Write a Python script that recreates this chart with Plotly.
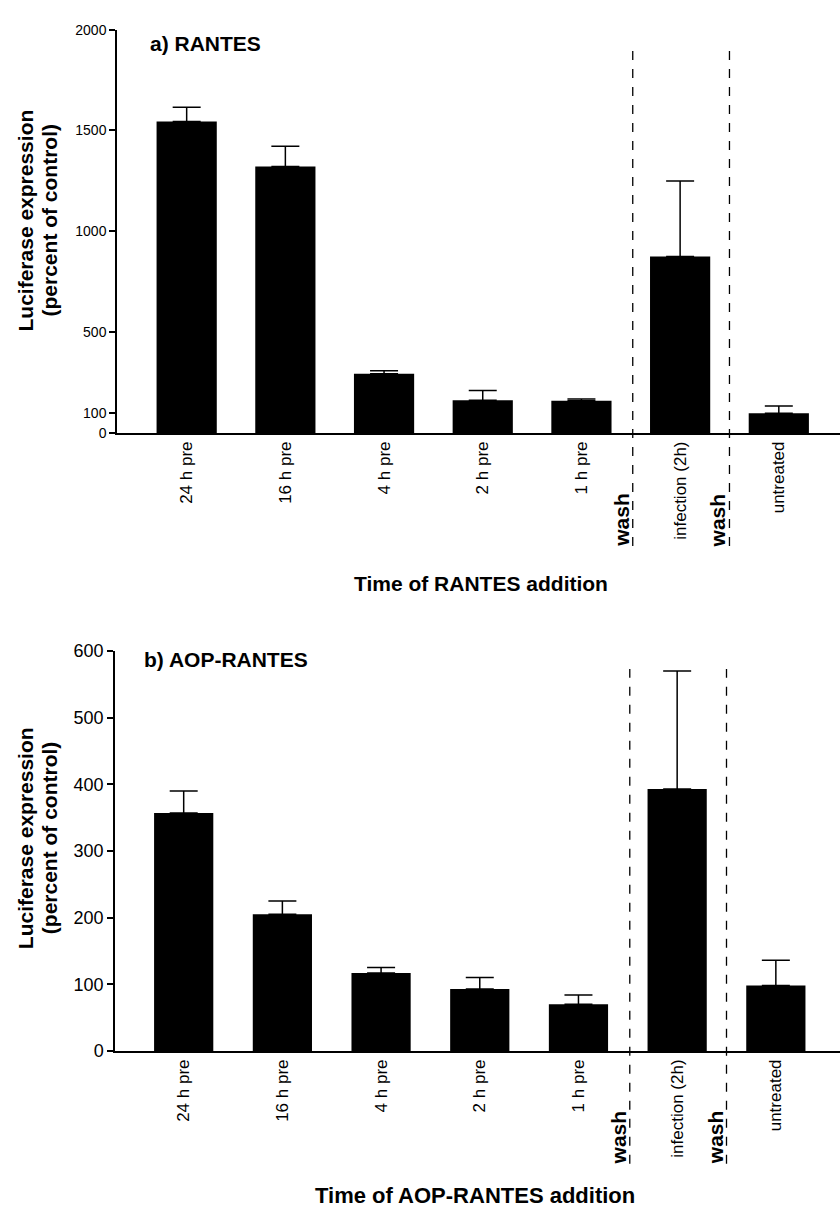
import plotly.graph_objects as go

categories = ["24 h pre", "16 h pre", "4 h pre", "2 h pre", "1 h pre", "infection (2h)", "untreated"]

rantes_values = [1545, 1322, 293, 162, 160, 875, 98]
rantes_errors = [70, 100, 16, 49, 8, 374, 35]

aop_values = [357, 205, 117, 93, 70, 393, 98]
aop_errors = [33, 20, 8, 17, 14, 177, 38]

rantes_yticks = [0, 100, 500, 1000, 1500, 2000]
aop_yticks = [0, 100, 200, 300, 400, 500, 600]

wash_positions = [4.52, 5.5]

W, H = 840, 1217
FONT = "Liberation Sans, Arial, sans-serif"

idx = list(range(len(categories)))

fig = go.Figure()

fig.add_trace(go.Bar(
    x=idx, y=rantes_values, width=0.61,
    marker=dict(color="black", line=dict(width=0)),
    error_y=dict(type="data", symmetric=False, array=rantes_errors,
                 arrayminus=[0] * len(rantes_errors), color="black",
                 thickness=1.5, width=14),
    xaxis="x", yaxis="y", showlegend=False))

fig.add_trace(go.Bar(
    x=idx, y=aop_values, width=0.60,
    marker=dict(color="black", line=dict(width=0)),
    error_y=dict(type="data", symmetric=False, array=aop_errors,
                 arrayminus=[0] * len(aop_errors), color="black",
                 thickness=1.5, width=14),
    xaxis="x2", yaxis="y2", showlegend=False))

def py(pix):
    return 1 - pix / H

xcommon = dict(tickvals=idx, ticktext=categories, tickangle=-90,
               showline=True, linecolor="black", linewidth=1.5,
               ticks="", showgrid=False, zeroline=False,
               tickfont=dict(family=FONT, size=17, color="black"))

fig.update_layout(
    width=W, height=H, autosize=False,
    margin=dict(l=0, r=0, t=0, b=0),
    paper_bgcolor="white", plot_bgcolor="white",
    xaxis=dict(domain=[117 / W, 1], range=[-0.706, 6.62], anchor="y", **xcommon),
    yaxis=dict(domain=[py(430), py(20)], range=[0, 2000], anchor="x",
               tickvals=rantes_yticks, ticktext=[str(v) for v in rantes_yticks],
               showline=True, linecolor="black", linewidth=1.5,
               ticks="outside", ticklen=6, tickwidth=1.5, tickcolor="black",
               showgrid=False, zeroline=False,
               tickfont=dict(family=FONT, size=14, color="black")),
    xaxis2=dict(domain=[115 / W, 1], range=[-0.696, 6.65], anchor="y2", **xcommon),
    yaxis2=dict(domain=[py(1058.3), py(651.7)], range=[0, 600], anchor="x2",
                tickvals=aop_yticks, ticktext=[str(v) for v in aop_yticks],
                showline=True, linecolor="black", linewidth=1.5,
                ticks="outside", ticklen=6, tickwidth=1.5, tickcolor="black",
                showgrid=False, zeroline=False,
                tickfont=dict(family=FONT, size=18, color="black")),
)

shapes = []
annotations = []
for xr, y0, y1, wy in [("x", py(545), py(40), py(518.5)), ("x2", py(1173), py(670), py(1146.5))]:
    for p in wash_positions:
        shapes.append(dict(type="line", xref=xr, yref="paper", x0=p, x1=p, y0=y0, y1=y1,
                           line=dict(color="black", width=1.3, dash="dash")))
        annotations.append(dict(text="<b>wash</b>", xref=xr, yref="paper", x=p, y=wy,
                                xshift=-11, textangle=-90, showarrow=False,
                                xanchor="center", yanchor="middle",
                                font=dict(family=FONT, size=21, color="black")))

# panel titles
annotations.append(dict(text="<b>a) RANTES</b>", xref="paper", yref="paper",
                        x=148 / W, y=py(34), xanchor="left", yanchor="middle",
                        showarrow=False, font=dict(family=FONT, size=21, color="black")))
annotations.append(dict(text="<b>b) AOP-RANTES</b>", xref="paper", yref="paper",
                        x=142 / W, y=py(660), xanchor="left", yanchor="middle",
                        showarrow=False, font=dict(family=FONT, size=21, color="black")))

# y axis titles (two lines each)
for yc in [py(214), py(842)]:
    for xc, line in [(25, "Luciferase expression"), (49, "(percent of control)")]:
        annotations.append(dict(text="<b>" + line + "</b>",
                                xref="paper", yref="paper", x=xc / W, y=yc,
                                textangle=-90, showarrow=False, xanchor="center", yanchor="middle",
                                font=dict(family=FONT, size=21, color="black")))

# x axis titles
annotations.append(dict(text="<b>Time of RANTES addition</b>", xref="paper", yref="paper",
                        x=481 / W, y=py(583), xanchor="center", yanchor="middle",
                        showarrow=False, font=dict(family=FONT, size=21, color="black")))
annotations.append(dict(text="<b>Time of AOP-RANTES addition</b>", xref="paper", yref="paper",
                        x=475 / W, y=py(1205), xanchor="center", yanchor="middle",
                        showarrow=False, font=dict(family=FONT, size=22, color="black")))

fig.update_layout(shapes=shapes, annotations=annotations)

fig.write_html("out.html", config={"displayModeBar": False},
               post_script="document.body.style.margin='0';")
